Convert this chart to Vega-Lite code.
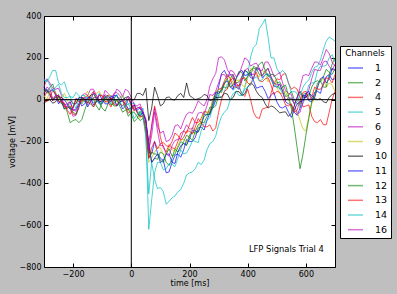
{
"$schema": "https://vega.github.io/schema/vega-lite/v6.json",
"width": 291, "height": 251,
"autosize": {"type": "none"},
"padding": {"left": 44, "top": 16, "right": 62, "bottom": 27},
"background": "#bfbfbf",
"config": {
  "font": "DejaVu Sans",
  "view": {"fill": "white", "stroke": "black", "strokeWidth": 1},
  "axis": {"domain": false, "grid": false, "tickColor": "black", "tickSize": -4, "labelColor": "black", "labelFontSize": 8, "titleFontSize": 8, "titleFontWeight": "normal", "titleColor": "black", "labelFont": "DejaVu Sans", "titleFont": "DejaVu Sans"},
  "legend": {"padding": 3, "strokeColor": "black", "fillColor": "white", "cornerRadius": 0, "titleFontSize": 8.5, "titleFontWeight": "normal", "titleColor": "black", "titleAnchor": "middle", "titlePadding": 2, "labelFontSize": 9.5, "labelColor": "black", "labelOffset": 11, "symbolType": "stroke", "symbolSize": 225, "symbolStrokeWidth": 1.5, "symbolOpacity": 0.55, "symbolOffset": 4, "rowPadding": 1.7, "labelFont": "DejaVu Sans", "titleFont": "DejaVu Sans"}
},
"data": {"values": [
{"c":"1","t":-300,"v":30},{"c":"1","t":-280,"v":20},{"c":"1","t":-260,"v":10},{"c":"1","t":-240,"v":-10},{"c":"1","t":-220,"v":-30},{"c":"1","t":-200,"v":-50},{"c":"1","t":-180,"v":-20},{"c":"1","t":-160,"v":0},{"c":"1","t":-140,"v":-10},{"c":"1","t":-120,"v":10},{"c":"1","t":-100,"v":-20},{"c":"1","t":-80,"v":0},{"c":"1","t":-60,"v":20},{"c":"1","t":-40,"v":-10},{"c":"1","t":-20,"v":-30},{"c":"1","t":0,"v":-20},{"c":"1","t":20,"v":-50},{"c":"1","t":40,"v":-70},{"c":"1","t":60,"v":-250},{"c":"1","t":80,"v":-200},{"c":"1","t":100,"v":-280},{"c":"1","t":120,"v":-350},{"c":"1","t":140,"v":-300},{"c":"1","t":160,"v":-260},{"c":"1","t":180,"v":-240},{"c":"1","t":200,"v":-200},{"c":"1","t":220,"v":-180},{"c":"1","t":240,"v":-130},{"c":"1","t":260,"v":-100},{"c":"1","t":280,"v":-40},{"c":"1","t":300,"v":60},{"c":"1","t":320,"v":140},{"c":"1","t":340,"v":120},{"c":"1","t":360,"v":60},{"c":"1","t":380,"v":90},{"c":"1","t":400,"v":130},{"c":"1","t":420,"v":100},{"c":"1","t":440,"v":150},{"c":"1","t":460,"v":120},{"c":"1","t":480,"v":100},{"c":"1","t":500,"v":60},{"c":"1","t":520,"v":40},{"c":"1","t":540,"v":-20},{"c":"1","t":560,"v":-60},{"c":"1","t":580,"v":-40},{"c":"1","t":600,"v":20},{"c":"1","t":620,"v":-10},{"c":"1","t":640,"v":40},{"c":"1","t":660,"v":80},{"c":"1","t":680,"v":120},{"c":"1","t":700,"v":100},
{"c":"1","t":-290,"v":50},{"c":"1","t":-270,"v":-5},{"c":"1","t":-250,"v":15},{"c":"1","t":-230,"v":-45},{"c":"1","t":-210,"v":-10},{"c":"1","t":-190,"v":-45},{"c":"1","t":-170,"v":10},{"c":"1","t":-150,"v":-35},{"c":"1","t":-130,"v":10},{"c":"1","t":-110,"v":-20},{"c":"1","t":-90,"v":15},{"c":"1","t":-70,"v":-10},{"c":"1","t":-50,"v":20},{"c":"1","t":-30,"v":-45},{"c":"1","t":-10,"v":5},{"c":"1","t":10,"v":-45},{"c":"1","t":30,"v":-40},{"c":"1","t":50,"v":-100},{"c":"1","t":70,"v":-260},{"c":"1","t":90,"v":-255},{"c":"1","t":110,"v":-290},{"c":"1","t":130,"v":-345},{"c":"1","t":150,"v":-265},{"c":"1","t":170,"v":-275},{"c":"1","t":190,"v":-190},{"c":"1","t":210,"v":-200},{"c":"1","t":230,"v":-135},{"c":"1","t":250,"v":-145},{"c":"1","t":270,"v":-60},{"c":"1","t":290,"v":-5},{"c":"1","t":310,"v":125},{"c":"1","t":330,"v":110},{"c":"1","t":350,"v":105},{"c":"1","t":370,"v":50},{"c":"1","t":390,"v":140},{"c":"1","t":410,"v":105},{"c":"1","t":430,"v":145},{"c":"1","t":450,"v":105},{"c":"1","t":470,"v":120},{"c":"1","t":490,"v":65},{"c":"1","t":510,"v":75},{"c":"1","t":530,"v":-10},{"c":"1","t":550,"v":-25},{"c":"1","t":570,"v":-75},{"c":"1","t":590,"v":20},{"c":"1","t":610,"v":-5},{"c":"1","t":630,"v":35},{"c":"1","t":650,"v":30},{"c":"1","t":670,"v":110},{"c":"1","t":690,"v":95},
{"c":"2","t":-300,"v":50},{"c":"2","t":-280,"v":60},{"c":"2","t":-260,"v":30},{"c":"2","t":-240,"v":-20},{"c":"2","t":-220,"v":-60},{"c":"2","t":-200,"v":-100},{"c":"2","t":-180,"v":-110},{"c":"2","t":-160,"v":-50},{"c":"2","t":-140,"v":-20},{"c":"2","t":-120,"v":-10},{"c":"2","t":-100,"v":-40},{"c":"2","t":-80,"v":-20},{"c":"2","t":-60,"v":-30},{"c":"2","t":-40,"v":-10},{"c":"2","t":-20,"v":-40},{"c":"2","t":0,"v":-60},{"c":"2","t":20,"v":-80},{"c":"2","t":40,"v":-90},{"c":"2","t":60,"v":-200},{"c":"2","t":80,"v":-280},{"c":"2","t":100,"v":-250},{"c":"2","t":120,"v":-300},{"c":"2","t":140,"v":-280},{"c":"2","t":160,"v":-250},{"c":"2","t":180,"v":-200},{"c":"2","t":200,"v":-180},{"c":"2","t":220,"v":-150},{"c":"2","t":240,"v":-110},{"c":"2","t":260,"v":-80},{"c":"2","t":280,"v":-40},{"c":"2","t":300,"v":20},{"c":"2","t":320,"v":60},{"c":"2","t":340,"v":100},{"c":"2","t":360,"v":80},{"c":"2","t":380,"v":110},{"c":"2","t":400,"v":130},{"c":"2","t":420,"v":160},{"c":"2","t":440,"v":120},{"c":"2","t":460,"v":140},{"c":"2","t":480,"v":110},{"c":"2","t":500,"v":80},{"c":"2","t":520,"v":60},{"c":"2","t":540,"v":20},{"c":"2","t":560,"v":0},{"c":"2","t":580,"v":-20},{"c":"2","t":600,"v":30},{"c":"2","t":620,"v":60},{"c":"2","t":640,"v":90},{"c":"2","t":660,"v":110},{"c":"2","t":680,"v":130},{"c":"2","t":700,"v":150},
{"c":"2","t":-290,"v":30},{"c":"2","t":-270,"v":75},{"c":"2","t":-250,"v":-5},{"c":"2","t":-230,"v":-20},{"c":"2","t":-210,"v":-110},{"c":"2","t":-190,"v":-95},{"c":"2","t":-170,"v":-95},{"c":"2","t":-150,"v":-10},{"c":"2","t":-130,"v":-35},{"c":"2","t":-110,"v":-10},{"c":"2","t":-90,"v":-55},{"c":"2","t":-70,"v":5},{"c":"2","t":-50,"v":-30},{"c":"2","t":-30,"v":-5},{"c":"2","t":-10,"v":-80},{"c":"2","t":10,"v":-60},{"c":"2","t":30,"v":-100},{"c":"2","t":50,"v":-120},{"c":"2","t":70,"v":-300},{"c":"2","t":90,"v":-285},{"c":"2","t":110,"v":-260},{"c":"2","t":130,"v":-315},{"c":"2","t":150,"v":-235},{"c":"2","t":170,"v":-235},{"c":"2","t":190,"v":-170},{"c":"2","t":210,"v":-195},{"c":"2","t":230,"v":-120},{"c":"2","t":250,"v":-110},{"c":"2","t":270,"v":-35},{"c":"2","t":290,"v":-30},{"c":"2","t":310,"v":55},{"c":"2","t":330,"v":55},{"c":"2","t":350,"v":120},{"c":"2","t":370,"v":85},{"c":"2","t":390,"v":140},{"c":"2","t":410,"v":115},{"c":"2","t":430,"v":150},{"c":"2","t":450,"v":115},{"c":"2","t":470,"v":150},{"c":"2","t":490,"v":75},{"c":"2","t":510,"v":85},{"c":"2","t":530,"v":15},{"c":"2","t":550,"v":40},{"c":"2","t":570,"v":-20},{"c":"2","t":590,"v":25},{"c":"2","t":610,"v":15},{"c":"2","t":630,"v":85},{"c":"2","t":650,"v":85},{"c":"2","t":670,"v":145},{"c":"2","t":690,"v":120},
{"c":"4","t":-300,"v":10},{"c":"4","t":-280,"v":30},{"c":"4","t":-260,"v":20},{"c":"4","t":-240,"v":0},{"c":"4","t":-220,"v":-40},{"c":"4","t":-200,"v":-70},{"c":"4","t":-180,"v":-30},{"c":"4","t":-160,"v":0},{"c":"4","t":-140,"v":20},{"c":"4","t":-120,"v":0},{"c":"4","t":-100,"v":10},{"c":"4","t":-80,"v":-10},{"c":"4","t":-60,"v":0},{"c":"4","t":-40,"v":-20},{"c":"4","t":-20,"v":-10},{"c":"4","t":0,"v":-30},{"c":"4","t":20,"v":-40},{"c":"4","t":40,"v":-60},{"c":"4","t":60,"v":-260},{"c":"4","t":80,"v":-30},{"c":"4","t":100,"v":-180},{"c":"4","t":120,"v":-250},{"c":"4","t":140,"v":-230},{"c":"4","t":160,"v":-200},{"c":"4","t":180,"v":-150},{"c":"4","t":200,"v":-120},{"c":"4","t":220,"v":-110},{"c":"4","t":240,"v":-90},{"c":"4","t":260,"v":-60},{"c":"4","t":280,"v":0},{"c":"4","t":300,"v":50},{"c":"4","t":320,"v":90},{"c":"4","t":340,"v":100},{"c":"4","t":360,"v":60},{"c":"4","t":380,"v":30},{"c":"4","t":400,"v":50},{"c":"4","t":420,"v":-60},{"c":"4","t":440,"v":-90},{"c":"4","t":460,"v":-40},{"c":"4","t":480,"v":30},{"c":"4","t":500,"v":100},{"c":"4","t":520,"v":120},{"c":"4","t":540,"v":80},{"c":"4","t":560,"v":60},{"c":"4","t":580,"v":10},{"c":"4","t":600,"v":-30},{"c":"4","t":620,"v":-80},{"c":"4","t":640,"v":-110},{"c":"4","t":660,"v":-120},{"c":"4","t":680,"v":-60},{"c":"4","t":700,"v":40},
{"c":"4","t":-290,"v":40},{"c":"4","t":-270,"v":-5},{"c":"4","t":-250,"v":20},{"c":"4","t":-230,"v":-35},{"c":"4","t":-210,"v":-30},{"c":"4","t":-190,"v":-70},{"c":"4","t":-170,"v":0},{"c":"4","t":-150,"v":-15},{"c":"4","t":-130,"v":40},{"c":"4","t":-110,"v":-5},{"c":"4","t":-90,"v":20},{"c":"4","t":-70,"v":-35},{"c":"4","t":-50,"v":0},{"c":"4","t":-30,"v":-30},{"c":"4","t":-10,"v":5},{"c":"4","t":10,"v":-55},{"c":"4","t":30,"v":-35},{"c":"4","t":50,"v":-110},{"c":"4","t":70,"v":-120},{"c":"4","t":90,"v":-90},{"c":"4","t":110,"v":-230},{"c":"4","t":130,"v":-215},{"c":"4","t":150,"v":-235},{"c":"4","t":170,"v":-160},{"c":"4","t":190,"v":-160},{"c":"4","t":210,"v":-85},{"c":"4","t":230,"v":-110},{"c":"4","t":250,"v":-55},{"c":"4","t":270,"v":-60},{"c":"4","t":290,"v":35},{"c":"4","t":310,"v":55},{"c":"4","t":330,"v":120},{"c":"4","t":350,"v":60},{"c":"4","t":370,"v":60},{"c":"4","t":390,"v":15},{"c":"4","t":410,"v":0},{"c":"4","t":430,"v":-85},{"c":"4","t":450,"v":-45},{"c":"4","t":470,"v":-35},{"c":"4","t":490,"v":75},{"c":"4","t":510,"v":95},{"c":"4","t":530,"v":125},{"c":"4","t":550,"v":50},{"c":"4","t":570,"v":50},{"c":"4","t":590,"v":-35},{"c":"4","t":610,"v":-25},{"c":"4","t":630,"v":-105},{"c":"4","t":650,"v":-95},{"c":"4","t":670,"v":-120},{"c":"4","t":690,"v":0},
{"c":"5","t":-300,"v":100},{"c":"5","t":-280,"v":110},{"c":"5","t":-260,"v":140},{"c":"5","t":-240,"v":70},{"c":"5","t":-220,"v":40},{"c":"5","t":-200,"v":10},{"c":"5","t":-180,"v":20},{"c":"5","t":-160,"v":0},{"c":"5","t":-140,"v":10},{"c":"5","t":-120,"v":-10},{"c":"5","t":-100,"v":20},{"c":"5","t":-80,"v":0},{"c":"5","t":-60,"v":10},{"c":"5","t":-40,"v":-20},{"c":"5","t":-20,"v":0},{"c":"5","t":0,"v":-20},{"c":"5","t":20,"v":-50},{"c":"5","t":40,"v":-40},{"c":"5","t":60,"v":-620},{"c":"5","t":80,"v":-350},{"c":"5","t":100,"v":-300},{"c":"5","t":120,"v":-330},{"c":"5","t":140,"v":-310},{"c":"5","t":160,"v":-280},{"c":"5","t":180,"v":-260},{"c":"5","t":200,"v":-230},{"c":"5","t":220,"v":-200},{"c":"5","t":240,"v":-150},{"c":"5","t":260,"v":-100},{"c":"5","t":280,"v":-40},{"c":"5","t":300,"v":20},{"c":"5","t":320,"v":40},{"c":"5","t":340,"v":80},{"c":"5","t":360,"v":60},{"c":"5","t":380,"v":20},{"c":"5","t":400,"v":120},{"c":"5","t":420,"v":250},{"c":"5","t":440,"v":340},{"c":"5","t":460,"v":385},{"c":"5","t":480,"v":200},{"c":"5","t":500,"v":150},{"c":"5","t":520,"v":140},{"c":"5","t":540,"v":80},{"c":"5","t":560,"v":40},{"c":"5","t":580,"v":-40},{"c":"5","t":600,"v":20},{"c":"5","t":620,"v":80},{"c":"5","t":640,"v":140},{"c":"5","t":660,"v":160},{"c":"5","t":680,"v":200},{"c":"5","t":700,"v":180},
{"c":"5","t":-290,"v":85},{"c":"5","t":-270,"v":140},{"c":"5","t":-250,"v":80},{"c":"5","t":-230,"v":85},{"c":"5","t":-210,"v":15},{"c":"5","t":-190,"v":35},{"c":"5","t":-170,"v":-20},{"c":"5","t":-150,"v":15},{"c":"5","t":-130,"v":-15},{"c":"5","t":-110,"v":30},{"c":"5","t":-90,"v":-10},{"c":"5","t":-70,"v":20},{"c":"5","t":-50,"v":-30},{"c":"5","t":-30,"v":20},{"c":"5","t":-10,"v":-20},{"c":"5","t":10,"v":-15},{"c":"5","t":30,"v":-75},{"c":"5","t":50,"v":-150},{"c":"5","t":70,"v":-480},{"c":"5","t":90,"v":-300},{"c":"5","t":110,"v":-335},{"c":"5","t":130,"v":-305},{"c":"5","t":150,"v":-320},{"c":"5","t":170,"v":-240},{"c":"5","t":190,"v":-255},{"c":"5","t":210,"v":-195},{"c":"5","t":230,"v":-205},{"c":"5","t":250,"v":-115},{"c":"5","t":270,"v":-85},{"c":"5","t":290,"v":15},{"c":"5","t":310,"v":10},{"c":"5","t":330,"v":75},{"c":"5","t":350,"v":45},{"c":"5","t":370,"v":70},{"c":"5","t":390,"v":60},{"c":"5","t":410,"v":205},{"c":"5","t":430,"v":265},{"c":"5","t":450,"v":360},{"c":"5","t":470,"v":300},{"c":"5","t":490,"v":200},{"c":"5","t":510,"v":125},{"c":"5","t":530,"v":125},{"c":"5","t":550,"v":35},{"c":"5","t":570,"v":30},{"c":"5","t":590,"v":-20},{"c":"5","t":610,"v":70},{"c":"5","t":630,"v":80},{"c":"5","t":650,"v":160},{"c":"5","t":670,"v":165},{"c":"5","t":690,"v":215},
{"c":"6","t":-300,"v":60},{"c":"6","t":-280,"v":80},{"c":"6","t":-260,"v":50},{"c":"6","t":-240,"v":20},{"c":"6","t":-220,"v":-30},{"c":"6","t":-200,"v":-80},{"c":"6","t":-180,"v":-40},{"c":"6","t":-160,"v":30},{"c":"6","t":-140,"v":50},{"c":"6","t":-120,"v":20},{"c":"6","t":-100,"v":0},{"c":"6","t":-80,"v":30},{"c":"6","t":-60,"v":20},{"c":"6","t":-40,"v":40},{"c":"6","t":-20,"v":50},{"c":"6","t":0,"v":10},{"c":"6","t":20,"v":-30},{"c":"6","t":40,"v":-60},{"c":"6","t":60,"v":-200},{"c":"6","t":80,"v":-40},{"c":"6","t":100,"v":-160},{"c":"6","t":120,"v":-200},{"c":"6","t":140,"v":-170},{"c":"6","t":160,"v":-120},{"c":"6","t":180,"v":-100},{"c":"6","t":200,"v":-60},{"c":"6","t":220,"v":-40},{"c":"6","t":240,"v":-20},{"c":"6","t":260,"v":0},{"c":"6","t":280,"v":100},{"c":"6","t":300,"v":200},{"c":"6","t":320,"v":190},{"c":"6","t":340,"v":120},{"c":"6","t":360,"v":80},{"c":"6","t":380,"v":110},{"c":"6","t":400,"v":150},{"c":"6","t":420,"v":120},{"c":"6","t":440,"v":140},{"c":"6","t":460,"v":180},{"c":"6","t":480,"v":150},{"c":"6","t":500,"v":120},{"c":"6","t":520,"v":80},{"c":"6","t":540,"v":30},{"c":"6","t":560,"v":-20},{"c":"6","t":580,"v":-60},{"c":"6","t":600,"v":20},{"c":"6","t":620,"v":100},{"c":"6","t":640,"v":140},{"c":"6","t":660,"v":180},{"c":"6","t":680,"v":160},{"c":"6","t":700,"v":170},
{"c":"6","t":-290,"v":100},{"c":"6","t":-270,"v":55},{"c":"6","t":-250,"v":55},{"c":"6","t":-230,"v":-35},{"c":"6","t":-210,"v":-45},{"c":"6","t":-190,"v":-75},{"c":"6","t":-170,"v":20},{"c":"6","t":-150,"v":20},{"c":"6","t":-130,"v":50},{"c":"6","t":-110,"v":-15},{"c":"6","t":-90,"v":45},{"c":"6","t":-70,"v":15},{"c":"6","t":-50,"v":50},{"c":"6","t":-30,"v":15},{"c":"6","t":-10,"v":40},{"c":"6","t":10,"v":-25},{"c":"6","t":30,"v":-20},{"c":"6","t":50,"v":-110},{"c":"6","t":70,"v":-130},{"c":"6","t":90,"v":-125},{"c":"6","t":110,"v":-150},{"c":"6","t":130,"v":-195},{"c":"6","t":150,"v":-125},{"c":"6","t":170,"v":-140},{"c":"6","t":190,"v":-70},{"c":"6","t":210,"v":-65},{"c":"6","t":230,"v":-5},{"c":"6","t":250,"v":-30},{"c":"6","t":270,"v":65},{"c":"6","t":290,"v":125},{"c":"6","t":310,"v":205},{"c":"6","t":330,"v":145},{"c":"6","t":350,"v":120},{"c":"6","t":370,"v":65},{"c":"6","t":390,"v":140},{"c":"6","t":410,"v":120},{"c":"6","t":430,"v":155},{"c":"6","t":450,"v":140},{"c":"6","t":470,"v":180},{"c":"6","t":490,"v":110},{"c":"6","t":510,"v":130},{"c":"6","t":530,"v":45},{"c":"6","t":550,"v":25},{"c":"6","t":570,"v":-70},{"c":"6","t":590,"v":-10},{"c":"6","t":610,"v":45},{"c":"6","t":630,"v":145},{"c":"6","t":650,"v":140},{"c":"6","t":670,"v":185},{"c":"6","t":690,"v":140},
{"c":"9","t":-300,"v":20},{"c":"9","t":-280,"v":40},{"c":"9","t":-260,"v":30},{"c":"9","t":-240,"v":10},{"c":"9","t":-220,"v":0},{"c":"9","t":-200,"v":-30},{"c":"9","t":-180,"v":-10},{"c":"9","t":-160,"v":20},{"c":"9","t":-140,"v":0},{"c":"9","t":-120,"v":30},{"c":"9","t":-100,"v":10},{"c":"9","t":-80,"v":20},{"c":"9","t":-60,"v":0},{"c":"9","t":-40,"v":10},{"c":"9","t":-20,"v":-20},{"c":"9","t":0,"v":-40},{"c":"9","t":20,"v":-60},{"c":"9","t":40,"v":-70},{"c":"9","t":60,"v":-300},{"c":"9","t":80,"v":-250},{"c":"9","t":100,"v":-230},{"c":"9","t":120,"v":-260},{"c":"9","t":140,"v":-240},{"c":"9","t":160,"v":-220},{"c":"9","t":180,"v":-190},{"c":"9","t":200,"v":-170},{"c":"9","t":220,"v":-150},{"c":"9","t":240,"v":-100},{"c":"9","t":260,"v":-60},{"c":"9","t":280,"v":0},{"c":"9","t":300,"v":50},{"c":"9","t":320,"v":70},{"c":"9","t":340,"v":110},{"c":"9","t":360,"v":90},{"c":"9","t":380,"v":70},{"c":"9","t":400,"v":100},{"c":"9","t":420,"v":140},{"c":"9","t":440,"v":110},{"c":"9","t":460,"v":130},{"c":"9","t":480,"v":100},{"c":"9","t":500,"v":60},{"c":"9","t":520,"v":30},{"c":"9","t":540,"v":0},{"c":"9","t":560,"v":-40},{"c":"9","t":580,"v":-100},{"c":"9","t":600,"v":-150},{"c":"9","t":620,"v":-20},{"c":"9","t":640,"v":60},{"c":"9","t":660,"v":100},{"c":"9","t":680,"v":80},{"c":"9","t":700,"v":40},
{"c":"9","t":-290,"v":0},{"c":"9","t":-270,"v":45},{"c":"9","t":-250,"v":5},{"c":"9","t":-230,"v":30},{"c":"9","t":-210,"v":-35},{"c":"9","t":-190,"v":-5},{"c":"9","t":-170,"v":-20},{"c":"9","t":-150,"v":40},{"c":"9","t":-130,"v":5},{"c":"9","t":-110,"v":40},{"c":"9","t":-90,"v":-15},{"c":"9","t":-70,"v":20},{"c":"9","t":-50,"v":-10},{"c":"9","t":-30,"v":20},{"c":"9","t":-10,"v":-50},{"c":"9","t":10,"v":-35},{"c":"9","t":30,"v":-90},{"c":"9","t":50,"v":-130},{"c":"9","t":70,"v":-280},{"c":"9","t":90,"v":-230},{"c":"9","t":110,"v":-260},{"c":"9","t":130,"v":-225},{"c":"9","t":150,"v":-250},{"c":"9","t":170,"v":-190},{"c":"9","t":190,"v":-205},{"c":"9","t":210,"v":-130},{"c":"9","t":230,"v":-135},{"c":"9","t":250,"v":-60},{"c":"9","t":270,"v":-60},{"c":"9","t":290,"v":35},{"c":"9","t":310,"v":45},{"c":"9","t":330,"v":115},{"c":"9","t":350,"v":80},{"c":"9","t":370,"v":95},{"c":"9","t":390,"v":60},{"c":"9","t":410,"v":150},{"c":"9","t":430,"v":115},{"c":"9","t":450,"v":140},{"c":"9","t":470,"v":85},{"c":"9","t":490,"v":90},{"c":"9","t":510,"v":30},{"c":"9","t":530,"v":40},{"c":"9","t":550,"v":-40},{"c":"9","t":570,"v":-55},{"c":"9","t":590,"v":-140},{"c":"9","t":610,"v":-80},{"c":"9","t":630,"v":10},{"c":"9","t":650,"v":100},{"c":"9","t":670,"v":60},{"c":"9","t":690,"v":70},
{"c":"10","t":-300,"v":-20},{"c":"10","t":-280,"v":0},{"c":"10","t":-260,"v":-10},{"c":"10","t":-240,"v":10},{"c":"10","t":-220,"v":0},{"c":"10","t":-200,"v":-20},{"c":"10","t":-180,"v":10},{"c":"10","t":-160,"v":0},{"c":"10","t":-140,"v":20},{"c":"10","t":-120,"v":10},{"c":"10","t":-100,"v":-10},{"c":"10","t":-80,"v":20},{"c":"10","t":-60,"v":10},{"c":"10","t":-40,"v":0},{"c":"10","t":-20,"v":10},{"c":"10","t":0,"v":0},{"c":"10","t":20,"v":30},{"c":"10","t":40,"v":20},{"c":"10","t":60,"v":-100},{"c":"10","t":80,"v":60},{"c":"10","t":100,"v":-30},{"c":"10","t":120,"v":10},{"c":"10","t":140,"v":0},{"c":"10","t":160,"v":20},{"c":"10","t":180,"v":10},{"c":"10","t":200,"v":20},{"c":"10","t":220,"v":0},{"c":"10","t":240,"v":10},{"c":"10","t":260,"v":20},{"c":"10","t":280,"v":0},{"c":"10","t":300,"v":10},{"c":"10","t":320,"v":30},{"c":"10","t":340,"v":0},{"c":"10","t":360,"v":40},{"c":"10","t":380,"v":20},{"c":"10","t":400,"v":60},{"c":"10","t":420,"v":70},{"c":"10","t":440,"v":20},{"c":"10","t":460,"v":-20},{"c":"10","t":480,"v":-30},{"c":"10","t":500,"v":-50},{"c":"10","t":520,"v":-60},{"c":"10","t":540,"v":-80},{"c":"10","t":560,"v":-30},{"c":"10","t":580,"v":40},{"c":"10","t":600,"v":10},{"c":"10","t":620,"v":20},{"c":"10","t":640,"v":0},{"c":"10","t":660,"v":-10},{"c":"10","t":680,"v":10},{"c":"10","t":700,"v":30},
{"c":"10","t":-290,"v":-2},{"c":"10","t":-270,"v":-17},{"c":"10","t":-250,"v":15},{"c":"10","t":-230,"v":0},{"c":"10","t":-210,"v":0},{"c":"10","t":-190,"v":-20},{"c":"10","t":-170,"v":10},{"c":"10","t":-150,"v":2},{"c":"10","t":-130,"v":27},{"c":"10","t":-110,"v":-10},{"c":"10","t":-90,"v":13},{"c":"10","t":-70,"v":3},{"c":"10","t":-50,"v":20},{"c":"10","t":-30,"v":0},{"c":"10","t":-10,"v":15},{"c":"10","t":10,"v":0},{"c":"10","t":30,"v":30},{"c":"10","t":50,"v":55},{"c":"10","t":70,"v":-40},{"c":"10","t":90,"v":20},{"c":"10","t":110,"v":-20},{"c":"10","t":130,"v":13},{"c":"10","t":150,"v":-2},{"c":"10","t":170,"v":30},{"c":"10","t":190,"v":80},{"c":"10","t":210,"v":10},{"c":"10","t":230,"v":5},{"c":"10","t":250,"v":25},{"c":"10","t":270,"v":-5},{"c":"10","t":290,"v":10},{"c":"10","t":310,"v":12},{"c":"10","t":330,"v":27},{"c":"10","t":350,"v":10},{"c":"10","t":370,"v":38},{"c":"10","t":390,"v":28},{"c":"10","t":410,"v":80},{"c":"10","t":430,"v":40},{"c":"10","t":450,"v":10},{"c":"10","t":470,"v":-40},{"c":"10","t":490,"v":-35},{"c":"10","t":510,"v":-63},{"c":"10","t":530,"v":-58},{"c":"10","t":550,"v":-65},{"c":"10","t":570,"v":13},{"c":"10","t":590,"v":13},{"c":"10","t":610,"v":30},{"c":"10","t":630,"v":5},{"c":"10","t":650,"v":5},{"c":"10","t":670,"v":-15},{"c":"10","t":690,"v":25},
{"c":"11","t":-300,"v":60},{"c":"11","t":-280,"v":40},{"c":"11","t":-260,"v":20},{"c":"11","t":-240,"v":0},{"c":"11","t":-220,"v":-20},{"c":"11","t":-200,"v":-40},{"c":"11","t":-180,"v":0},{"c":"11","t":-160,"v":-20},{"c":"11","t":-140,"v":10},{"c":"11","t":-120,"v":-10},{"c":"11","t":-100,"v":0},{"c":"11","t":-80,"v":-20},{"c":"11","t":-60,"v":10},{"c":"11","t":-40,"v":-10},{"c":"11","t":-20,"v":-20},{"c":"11","t":0,"v":-40},{"c":"11","t":20,"v":-60},{"c":"11","t":40,"v":-60},{"c":"11","t":60,"v":-220},{"c":"11","t":80,"v":-280},{"c":"11","t":100,"v":-300},{"c":"11","t":120,"v":-260},{"c":"11","t":140,"v":-300},{"c":"11","t":160,"v":-250},{"c":"11","t":180,"v":-210},{"c":"11","t":200,"v":-190},{"c":"11","t":220,"v":-150},{"c":"11","t":240,"v":-120},{"c":"11","t":260,"v":-70},{"c":"11","t":280,"v":-20},{"c":"11","t":300,"v":30},{"c":"11","t":320,"v":80},{"c":"11","t":340,"v":60},{"c":"11","t":360,"v":100},{"c":"11","t":380,"v":140},{"c":"11","t":400,"v":120},{"c":"11","t":420,"v":90},{"c":"11","t":440,"v":60},{"c":"11","t":460,"v":40},{"c":"11","t":480,"v":20},{"c":"11","t":500,"v":-10},{"c":"11","t":520,"v":-40},{"c":"11","t":540,"v":-60},{"c":"11","t":560,"v":-50},{"c":"11","t":580,"v":-10},{"c":"11","t":600,"v":30},{"c":"11","t":620,"v":0},{"c":"11","t":640,"v":60},{"c":"11","t":660,"v":110},{"c":"11","t":680,"v":100},{"c":"11","t":700,"v":140},
{"c":"11","t":-290,"v":40},{"c":"11","t":-270,"v":50},{"c":"11","t":-250,"v":-20},{"c":"11","t":-230,"v":0},{"c":"11","t":-210,"v":-45},{"c":"11","t":-190,"v":5},{"c":"11","t":-170,"v":-30},{"c":"11","t":-150,"v":10},{"c":"11","t":-130,"v":-25},{"c":"11","t":-110,"v":25},{"c":"11","t":-90,"v":-20},{"c":"11","t":-70,"v":15},{"c":"11","t":-50,"v":-30},{"c":"11","t":-30,"v":-5},{"c":"11","t":-10,"v":-45},{"c":"11","t":10,"v":-25},{"c":"11","t":30,"v":-80},{"c":"11","t":50,"v":-100},{"c":"11","t":70,"v":-300},{"c":"11","t":90,"v":-260},{"c":"11","t":110,"v":-290},{"c":"11","t":130,"v":-260},{"c":"11","t":150,"v":-305},{"c":"11","t":170,"v":-220},{"c":"11","t":190,"v":-215},{"c":"11","t":210,"v":-145},{"c":"11","t":230,"v":-155},{"c":"11","t":250,"v":-80},{"c":"11","t":270,"v":-70},{"c":"11","t":290,"v":35},{"c":"11","t":310,"v":45},{"c":"11","t":330,"v":90},{"c":"11","t":350,"v":50},{"c":"11","t":370,"v":130},{"c":"11","t":390,"v":115},{"c":"11","t":410,"v":130},{"c":"11","t":430,"v":55},{"c":"11","t":450,"v":65},{"c":"11","t":470,"v":5},{"c":"11","t":490,"v":35},{"c":"11","t":510,"v":-35},{"c":"11","t":530,"v":-30},{"c":"11","t":550,"v":-85},{"c":"11","t":570,"v":-20},{"c":"11","t":590,"v":-5},{"c":"11","t":610,"v":40},{"c":"11","t":630,"v":10},{"c":"11","t":650,"v":100},{"c":"11","t":670,"v":80},{"c":"11","t":690,"v":150},
{"c":"12","t":-300,"v":40},{"c":"12","t":-280,"v":30},{"c":"12","t":-260,"v":10},{"c":"12","t":-240,"v":-10},{"c":"12","t":-220,"v":-40},{"c":"12","t":-200,"v":-60},{"c":"12","t":-180,"v":-30},{"c":"12","t":-160,"v":-10},{"c":"12","t":-140,"v":0},{"c":"12","t":-120,"v":-30},{"c":"12","t":-100,"v":-10},{"c":"12","t":-80,"v":0},{"c":"12","t":-60,"v":-20},{"c":"12","t":-40,"v":-30},{"c":"12","t":-20,"v":-50},{"c":"12","t":0,"v":-70},{"c":"12","t":20,"v":-90},{"c":"12","t":40,"v":-80},{"c":"12","t":60,"v":-280},{"c":"12","t":80,"v":-260},{"c":"12","t":100,"v":-290},{"c":"12","t":120,"v":-260},{"c":"12","t":140,"v":-270},{"c":"12","t":160,"v":-230},{"c":"12","t":180,"v":-210},{"c":"12","t":200,"v":-170},{"c":"12","t":220,"v":-160},{"c":"12","t":240,"v":-120},{"c":"12","t":260,"v":-70},{"c":"12","t":280,"v":-30},{"c":"12","t":300,"v":40},{"c":"12","t":320,"v":80},{"c":"12","t":340,"v":60},{"c":"12","t":360,"v":100},{"c":"12","t":380,"v":130},{"c":"12","t":400,"v":110},{"c":"12","t":420,"v":150},{"c":"12","t":440,"v":170},{"c":"12","t":460,"v":140},{"c":"12","t":480,"v":120},{"c":"12","t":500,"v":90},{"c":"12","t":520,"v":60},{"c":"12","t":540,"v":20},{"c":"12","t":560,"v":-130},{"c":"12","t":580,"v":-330},{"c":"12","t":600,"v":-170},{"c":"12","t":620,"v":-10},{"c":"12","t":640,"v":80},{"c":"12","t":660,"v":60},{"c":"12","t":680,"v":120},{"c":"12","t":700,"v":200},
{"c":"12","t":-290,"v":45},{"c":"12","t":-270,"v":5},{"c":"12","t":-250,"v":25},{"c":"12","t":-230,"v":-45},{"c":"12","t":-210,"v":-35},{"c":"12","t":-190,"v":-70},{"c":"12","t":-170,"v":10},{"c":"12","t":-150,"v":-15},{"c":"12","t":-130,"v":5},{"c":"12","t":-110,"v":-50},{"c":"12","t":-90,"v":5},{"c":"12","t":-70,"v":-25},{"c":"12","t":-50,"v":0},{"c":"12","t":-30,"v":-60},{"c":"12","t":-10,"v":-45},{"c":"12","t":10,"v":-105},{"c":"12","t":30,"v":-55},{"c":"12","t":50,"v":-140},{"c":"12","t":70,"v":-250},{"c":"12","t":90,"v":-260},{"c":"12","t":110,"v":-300},{"c":"12","t":130,"v":-235},{"c":"12","t":150,"v":-260},{"c":"12","t":170,"v":-200},{"c":"12","t":190,"v":-220},{"c":"12","t":210,"v":-155},{"c":"12","t":230,"v":-155},{"c":"12","t":250,"v":-70},{"c":"12","t":270,"v":-70},{"c":"12","t":290,"v":20},{"c":"12","t":310,"v":35},{"c":"12","t":330,"v":100},{"c":"12","t":350,"v":70},{"c":"12","t":370,"v":135},{"c":"12","t":390,"v":90},{"c":"12","t":410,"v":140},{"c":"12","t":430,"v":145},{"c":"12","t":450,"v":180},{"c":"12","t":470,"v":110},{"c":"12","t":490,"v":120},{"c":"12","t":510,"v":50},{"c":"12","t":530,"v":70},{"c":"12","t":550,"v":-40},{"c":"12","t":570,"v":-230},{"c":"12","t":590,"v":-260},{"c":"12","t":610,"v":-90},{"c":"12","t":630,"v":25},{"c":"12","t":650,"v":90},{"c":"12","t":670,"v":60},{"c":"12","t":690,"v":170},
{"c":"13","t":-300,"v":0},{"c":"13","t":-280,"v":10},{"c":"13","t":-260,"v":30},{"c":"13","t":-240,"v":-10},{"c":"13","t":-220,"v":-50},{"c":"13","t":-200,"v":-40},{"c":"13","t":-180,"v":-10},{"c":"13","t":-160,"v":10},{"c":"13","t":-140,"v":-10},{"c":"13","t":-120,"v":0},{"c":"13","t":-100,"v":20},{"c":"13","t":-80,"v":-10},{"c":"13","t":-60,"v":-20},{"c":"13","t":-40,"v":0},{"c":"13","t":-20,"v":-30},{"c":"13","t":0,"v":-50},{"c":"13","t":20,"v":-60},{"c":"13","t":40,"v":-80},{"c":"13","t":60,"v":-280},{"c":"13","t":80,"v":-200},{"c":"13","t":100,"v":-210},{"c":"13","t":120,"v":-220},{"c":"13","t":140,"v":-200},{"c":"13","t":160,"v":-170},{"c":"13","t":180,"v":-180},{"c":"13","t":200,"v":-150},{"c":"13","t":220,"v":-130},{"c":"13","t":240,"v":-110},{"c":"13","t":260,"v":-130},{"c":"13","t":280,"v":-150},{"c":"13","t":300,"v":-60},{"c":"13","t":320,"v":40},{"c":"13","t":340,"v":90},{"c":"13","t":360,"v":70},{"c":"13","t":380,"v":100},{"c":"13","t":400,"v":80},{"c":"13","t":420,"v":110},{"c":"13","t":440,"v":90},{"c":"13","t":460,"v":100},{"c":"13","t":480,"v":70},{"c":"13","t":500,"v":40},{"c":"13","t":520,"v":10},{"c":"13","t":540,"v":-30},{"c":"13","t":560,"v":-60},{"c":"13","t":580,"v":0},{"c":"13","t":600,"v":40},{"c":"13","t":620,"v":10},{"c":"13","t":640,"v":50},{"c":"13","t":660,"v":70},{"c":"13","t":680,"v":100},{"c":"13","t":700,"v":120},
{"c":"13","t":-290,"v":-10},{"c":"13","t":-270,"v":45},{"c":"13","t":-250,"v":-10},{"c":"13","t":-230,"v":-15},{"c":"13","t":-210,"v":-70},{"c":"13","t":-190,"v":5},{"c":"13","t":-170,"v":-10},{"c":"13","t":-150,"v":20},{"c":"13","t":-130,"v":-35},{"c":"13","t":-110,"v":20},{"c":"13","t":-90,"v":-10},{"c":"13","t":-70,"v":10},{"c":"13","t":-50,"v":-30},{"c":"13","t":-30,"v":0},{"c":"13","t":-10,"v":-65},{"c":"13","t":10,"v":-25},{"c":"13","t":30,"v":-80},{"c":"13","t":50,"v":-160},{"c":"13","t":70,"v":-230},{"c":"13","t":90,"v":-235},{"c":"13","t":110,"v":-205},{"c":"13","t":130,"v":-225},{"c":"13","t":150,"v":-160},{"c":"13","t":170,"v":-195},{"c":"13","t":190,"v":-150},{"c":"13","t":210,"v":-165},{"c":"13","t":230,"v":-90},{"c":"13","t":250,"v":-130},{"c":"13","t":270,"v":-120},{"c":"13","t":290,"v":-135},{"c":"13","t":310,"v":0},{"c":"13","t":330,"v":50},{"c":"13","t":350,"v":105},{"c":"13","t":370,"v":65},{"c":"13","t":390,"v":105},{"c":"13","t":410,"v":70},{"c":"13","t":430,"v":130},{"c":"13","t":450,"v":85},{"c":"13","t":470,"v":105},{"c":"13","t":490,"v":25},{"c":"13","t":510,"v":35},{"c":"13","t":530,"v":-25},{"c":"13","t":550,"v":-20},{"c":"13","t":570,"v":-50},{"c":"13","t":590,"v":35},{"c":"13","t":610,"v":0},{"c":"13","t":630,"v":60},{"c":"13","t":650,"v":50},{"c":"13","t":670,"v":105},{"c":"13","t":690,"v":80},
{"c":"14","t":-300,"v":90},{"c":"14","t":-280,"v":70},{"c":"14","t":-260,"v":60},{"c":"14","t":-240,"v":30},{"c":"14","t":-220,"v":10},{"c":"14","t":-200,"v":-20},{"c":"14","t":-180,"v":0},{"c":"14","t":-160,"v":20},{"c":"14","t":-140,"v":0},{"c":"14","t":-120,"v":10},{"c":"14","t":-100,"v":-10},{"c":"14","t":-80,"v":10},{"c":"14","t":-60,"v":0},{"c":"14","t":-40,"v":-10},{"c":"14","t":-20,"v":-30},{"c":"14","t":0,"v":-50},{"c":"14","t":20,"v":-70},{"c":"14","t":40,"v":-80},{"c":"14","t":60,"v":-450},{"c":"14","t":80,"v":-380},{"c":"14","t":100,"v":-420},{"c":"14","t":120,"v":-500},{"c":"14","t":140,"v":-470},{"c":"14","t":160,"v":-440},{"c":"14","t":180,"v":-400},{"c":"14","t":200,"v":-350},{"c":"14","t":220,"v":-330},{"c":"14","t":240,"v":-310},{"c":"14","t":260,"v":-240},{"c":"14","t":280,"v":-200},{"c":"14","t":300,"v":-120},{"c":"14","t":320,"v":-60},{"c":"14","t":340,"v":0},{"c":"14","t":360,"v":40},{"c":"14","t":380,"v":20},{"c":"14","t":400,"v":60},{"c":"14","t":420,"v":100},{"c":"14","t":440,"v":90},{"c":"14","t":460,"v":120},{"c":"14","t":480,"v":100},{"c":"14","t":500,"v":60},{"c":"14","t":520,"v":30},{"c":"14","t":540,"v":0},{"c":"14","t":560,"v":-20},{"c":"14","t":580,"v":20},{"c":"14","t":600,"v":80},{"c":"14","t":620,"v":130},{"c":"14","t":640,"v":160},{"c":"14","t":660,"v":240},{"c":"14","t":680,"v":300},{"c":"14","t":700,"v":280},
{"c":"14","t":-290,"v":95},{"c":"14","t":-270,"v":40},{"c":"14","t":-250,"v":75},{"c":"14","t":-230,"v":10},{"c":"14","t":-210,"v":15},{"c":"14","t":-190,"v":-40},{"c":"14","t":-170,"v":20},{"c":"14","t":-150,"v":-5},{"c":"14","t":-130,"v":30},{"c":"14","t":-110,"v":-20},{"c":"14","t":-90,"v":15},{"c":"14","t":-70,"v":-20},{"c":"14","t":-50,"v":25},{"c":"14","t":-30,"v":-30},{"c":"14","t":-10,"v":-20},{"c":"14","t":10,"v":-90},{"c":"14","t":30,"v":-65},{"c":"14","t":50,"v":-180},{"c":"14","t":70,"v":-300},{"c":"14","t":90,"v":-425},{"c":"14","t":110,"v":-440},{"c":"14","t":130,"v":-485},{"c":"14","t":150,"v":-460},{"c":"14","t":170,"v":-430},{"c":"14","t":190,"v":-360},{"c":"14","t":210,"v":-345},{"c":"14","t":230,"v":-300},{"c":"14","t":250,"v":-290},{"c":"14","t":270,"v":-210},{"c":"14","t":290,"v":-175},{"c":"14","t":310,"v":-80},{"c":"14","t":330,"v":-45},{"c":"14","t":350,"v":30},{"c":"14","t":370,"v":20},{"c":"14","t":390,"v":50},{"c":"14","t":410,"v":70},{"c":"14","t":430,"v":110},{"c":"14","t":450,"v":95},{"c":"14","t":470,"v":125},{"c":"14","t":490,"v":70},{"c":"14","t":510,"v":55},{"c":"14","t":530,"v":0},{"c":"14","t":550,"v":10},{"c":"14","t":570,"v":-10},{"c":"14","t":590,"v":60},{"c":"14","t":610,"v":95},{"c":"14","t":630,"v":155},{"c":"14","t":650,"v":190},{"c":"14","t":670,"v":280},{"c":"14","t":690,"v":290},
{"c":"16","t":-300,"v":30},{"c":"16","t":-280,"v":50},{"c":"16","t":-260,"v":20},{"c":"16","t":-240,"v":0},{"c":"16","t":-220,"v":-20},{"c":"16","t":-200,"v":-50},{"c":"16","t":-180,"v":-20},{"c":"16","t":-160,"v":10},{"c":"16","t":-140,"v":-10},{"c":"16","t":-120,"v":20},{"c":"16","t":-100,"v":0},{"c":"16","t":-80,"v":10},{"c":"16","t":-60,"v":30},{"c":"16","t":-40,"v":20},{"c":"16","t":-20,"v":0},{"c":"16","t":0,"v":-20},{"c":"16","t":20,"v":-40},{"c":"16","t":40,"v":-60},{"c":"16","t":60,"v":-240},{"c":"16","t":80,"v":-60},{"c":"16","t":100,"v":-220},{"c":"16","t":120,"v":-260},{"c":"16","t":140,"v":-220},{"c":"16","t":160,"v":-190},{"c":"16","t":180,"v":-150},{"c":"16","t":200,"v":-140},{"c":"16","t":220,"v":-100},{"c":"16","t":240,"v":-60},{"c":"16","t":260,"v":-30},{"c":"16","t":280,"v":20},{"c":"16","t":300,"v":80},{"c":"16","t":320,"v":120},{"c":"16","t":340,"v":140},{"c":"16","t":360,"v":110},{"c":"16","t":380,"v":160},{"c":"16","t":400,"v":190},{"c":"16","t":420,"v":170},{"c":"16","t":440,"v":150},{"c":"16","t":460,"v":130},{"c":"16","t":480,"v":110},{"c":"16","t":500,"v":70},{"c":"16","t":520,"v":40},{"c":"16","t":540,"v":10},{"c":"16","t":560,"v":-20},{"c":"16","t":580,"v":60},{"c":"16","t":600,"v":120},{"c":"16","t":620,"v":150},{"c":"16","t":640,"v":180},{"c":"16","t":660,"v":200},{"c":"16","t":680,"v":220},{"c":"16","t":700,"v":160},
{"c":"16","t":-290,"v":60},{"c":"16","t":-270,"v":5},{"c":"16","t":-250,"v":20},{"c":"16","t":-230,"v":-25},{"c":"16","t":-210,"v":-10},{"c":"16","t":-190,"v":-55},{"c":"16","t":-170,"v":10},{"c":"16","t":-150,"v":-25},{"c":"16","t":-130,"v":35},{"c":"16","t":-110,"v":0},{"c":"16","t":-90,"v":25},{"c":"16","t":-70,"v":-10},{"c":"16","t":-50,"v":35},{"c":"16","t":-30,"v":-5},{"c":"16","t":-10,"v":15},{"c":"16","t":10,"v":-50},{"c":"16","t":30,"v":-35},{"c":"16","t":50,"v":-90},{"c":"16","t":70,"v":-170},{"c":"16","t":90,"v":-150},{"c":"16","t":110,"v":-220},{"c":"16","t":130,"v":-270},{"c":"16","t":150,"v":-195},{"c":"16","t":170,"v":-185},{"c":"16","t":190,"v":-120},{"c":"16","t":210,"v":-140},{"c":"16","t":230,"v":-65},{"c":"16","t":250,"v":-70},{"c":"16","t":270,"v":25},{"c":"16","t":290,"v":40},{"c":"16","t":310,"v":120},{"c":"16","t":330,"v":100},{"c":"16","t":350,"v":135},{"c":"16","t":370,"v":120},{"c":"16","t":390,"v":200},{"c":"16","t":410,"v":160},{"c":"16","t":430,"v":175},{"c":"16","t":450,"v":115},{"c":"16","t":470,"v":150},{"c":"16","t":490,"v":80},{"c":"16","t":510,"v":75},{"c":"16","t":530,"v":-5},{"c":"16","t":550,"v":5},{"c":"16","t":570,"v":5},{"c":"16","t":590,"v":115},{"c":"16","t":610,"v":115},{"c":"16","t":630,"v":180},{"c":"16","t":650,"v":165},{"c":"16","t":670,"v":240},{"c":"16","t":690,"v":180}
]},
"layer": [
  {
    "mark": {"type": "line", "strokeWidth": 1, "opacity": 0.7},
    "encoding": {
      "x": {"field": "t", "type": "quantitative", "scale": {"domain": [-300, 700], "nice": false}, "axis": {"values": [-200, 0, 200, 400, 600], "title": "time [ms]", "labelPadding": 7, "titlePadding": 1}},
      "y": {"field": "v", "type": "quantitative", "scale": {"domain": [-800, 400], "nice": false}, "axis": {"values": [-800, -600, -400, -200, 0, 200, 400], "title": "voltage [mV]", "labelPadding": 7, "titlePadding": 3}},
      "color": {"field": "c", "type": "nominal", "title": "Channels",
        "scale": {"domain": ["1","2","4","5","6","9","10","11","12","13","14","16"], "range": ["#0000ff","#008000","#ff0000","#00bfbf","#bf00bf","#bfbf00","#000000","#0000ff","#008000","#ff0000","#00bfbf","#bf00bf"]},
        "legend": {"orient": "none", "legendX": 296, "legendY": 30}}
    }
  },
  {"data": {"values": [{}]}, "mark": {"type": "rule", "color": "black", "strokeWidth": 1}, "encoding": {"x": {"datum": 0, "axis": {"orient": "top", "values": [-200, 0, 200, 400, 600], "labels": false, "title": null}}}},
  {"data": {"values": [{}]}, "mark": {"type": "rule", "color": "black", "strokeWidth": 1}, "encoding": {"y": {"datum": 0, "axis": {"orient": "right", "values": [-800, -600, -400, -200, 0, 200, 400], "labels": false, "title": null}}}},
  {"data": {"values": [{}]}, "mark": {"type": "text", "align": "right", "baseline": "alphabetic", "fontSize": 8.4, "color": "black", "font": "DejaVu Sans"},
   "encoding": {"x": {"datum": 662, "axis": null}, "y": {"datum": -727, "axis": null}, "text": {"value": "LFP Signals Trial 4"}}}
],
"resolve": {"axis": {"x": "independent", "y": "independent"}}
}
